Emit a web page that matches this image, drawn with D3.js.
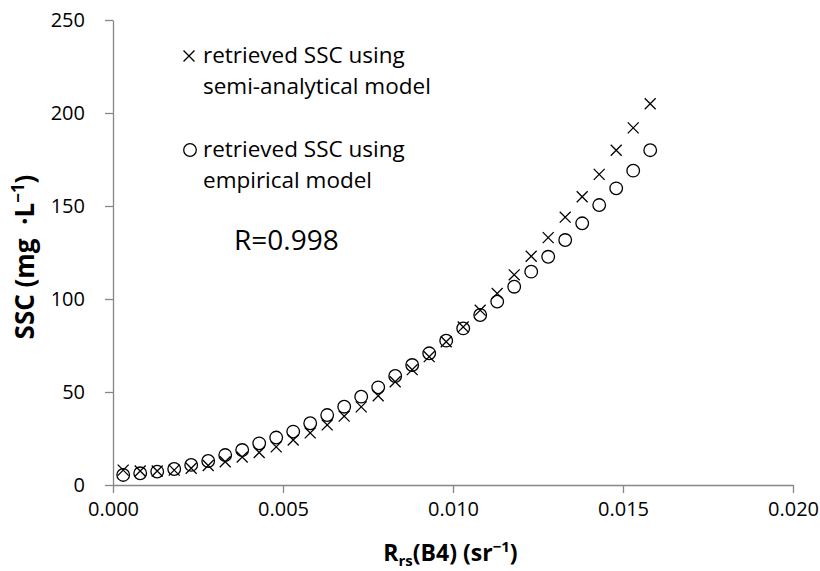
<!DOCTYPE html>
<html>
<head>
<meta charset="utf-8">
<script src="https://cdn.jsdelivr.net/npm/d3@7"></script>
<style>
  body { margin: 0; background: #fff; }
  svg { font-family: "Open Sans", sans-serif; }
  .axis path, .axis line { stroke: #868686; stroke-width: 1.3; }
  .axis text { fill: #000; font-size: 20px; font-family: "Open Sans", sans-serif; }
</style>
</head>
<body>
<svg id="chart" width="820" height="571"></svg>
<script>
// Rrs(B4) values (sr-1)
const rrs = [0.0003, 0.0008, 0.0013, 0.0018, 0.0023, 0.0028, 0.0033, 0.0038, 0.0043, 0.0048,
    0.0053, 0.0058, 0.0063, 0.0068, 0.0073, 0.0078, 0.0083, 0.0088, 0.0093, 0.0098,
    0.0103, 0.0108, 0.0113, 0.0118, 0.0123, 0.0128, 0.0133, 0.0138, 0.0143, 0.0148,
    0.0153, 0.0158];
// semi-analytical model (x markers)
const ssc_semi = [8, 7.5, 7.5, 8, 9, 10.5, 12.5, 15, 17.5, 20.5,
    24.2, 28, 32.3, 37, 42, 48, 55.5, 62, 69, 77,
    85, 94, 103, 113, 123, 133, 144, 155, 167, 180,
    192, 205];
// empirical model (o markers)
const ssc_emp = [5.4, 6.3, 7.2, 8.6, 10.8, 12.9, 16.1, 18.8, 22.4, 25.5,
    28.7, 33.2, 37.6, 42.1, 47.5, 52.5, 58.6, 64.5, 70.8, 77.6,
    84.2, 91.4, 98.6, 106.6, 114.7, 122.7, 131.7, 140.7, 150.5, 159.5,
    169, 180];
const xTicks = [0, 0.005, 0.010, 0.015, 0.020];
const yTicks = [0, 50, 100, 150, 200, 250];
const legendLabels = [["retrieved SSC using", "semi-analytical model"], ["retrieved SSC using", "empirical model"]];
const rText = "R=0.998";

const margin = {top: 20, right: 27, bottom: 86, left: 113},
    width = 820 - margin.left - margin.right,
    height = 571 - margin.top - margin.bottom;

const svg = d3.select("#chart");
const g = svg.append("g").attr("transform", `translate(${margin.left},${margin.top})`);

const x = d3.scaleLinear().domain([0, 0.02]).range([0, width]);
const y = d3.scaleLinear().domain([0, 250]).range([height, 0]);

// Axes
g.append("g")
    .attr("class", "axis")
    .attr("transform", `translate(0,${height})`)
    .call(d3.axisBottom(x).tickValues(xTicks).tickFormat(d3.format(".3f")).tickSizeInner(8).tickSizeOuter(0).tickPadding(9));

g.append("g")
    .attr("class", "axis")
    .call(d3.axisLeft(y).tickValues(yTicks).tickSizeInner(8).tickSizeOuter(0).tickPadding(20));

// Axis titles
const xt = g.append("text")
    .attr("x", (381 + 520) / 2 - margin.left)
    .attr("y", 561 - margin.top)
    .attr("text-anchor", "middle")
    .attr("font-weight", "bold")
    .attr("font-size", 23);
xt.append("tspan").text("R");
xt.append("tspan").attr("font-size", 15).attr("dy", 5).text("rs");
xt.append("tspan").attr("dy", -5).text("(B4) (sr");
xt.append("tspan").attr("font-size", 15).attr("dy", -9).text("\u22121");
xt.append("tspan").attr("dy", 9).text(")");

const yt = g.append("text")
    .attr("transform", `translate(${34 - margin.left},${257 - margin.top}) rotate(-90)`)
    .attr("text-anchor", "middle")
    .attr("font-weight", "bold")
    .attr("font-size", 26);
yt.append("tspan").text("SSC (mg \u00a0\u00b7L");
yt.append("tspan").attr("font-size", 17).attr("dy", -10).text("\u22121");
yt.append("tspan").attr("dy", 10).text(")");

// Markers
const cross = d3.symbol().type(d3.symbolX).size(80);

g.selectAll(".emp")
    .data(rrs.map((r, i) => ({r: r, v: ssc_emp[i]})))
    .enter()
    .append("circle")
    .attr("class", "emp")
    .attr("cx", d => x(d.r))
    .attr("cy", d => y(d.v))
    .attr("r", 6.3)
    .style("fill", "none")
    .style("stroke", "#000")
    .style("stroke-width", 1.3);

g.selectAll(".semi")
    .data(rrs.map((r, i) => ({r: r, v: ssc_semi[i]})))
    .enter()
    .append("path")
    .attr("class", "semi")
    .attr("transform", d => `translate(${x(d.r)},${y(d.v)})`)
    .attr("d", cross)
    .style("fill", "none")
    .style("stroke", "#000")
    .style("stroke-width", 1.3);

// Legend
const lg = svg.append("g");
lg.append("path")
    .attr("transform", "translate(189,56)")
    .attr("d", cross)
    .style("fill", "none")
    .style("stroke", "#000")
    .style("stroke-width", 1.3);
lg.append("circle")
    .attr("cx", 190).attr("cy", 150).attr("r", 6.3)
    .style("fill", "none").style("stroke", "#000").style("stroke-width", 1.3);

const legendY = [62.7, 156.7];
legendLabels.forEach((lines, i) => {
    lines.forEach((t, j) => {
        lg.append("text")
            .attr("x", 203)
            .attr("y", legendY[i] + j * 31.5)
            .attr("font-size", 22.5)
            .text(t);
    });
});

lg.append("text")
    .attr("x", 234)
    .attr("y", 250)
    .attr("font-size", 28)
    .text(rText);
</script>
</body>
</html>
